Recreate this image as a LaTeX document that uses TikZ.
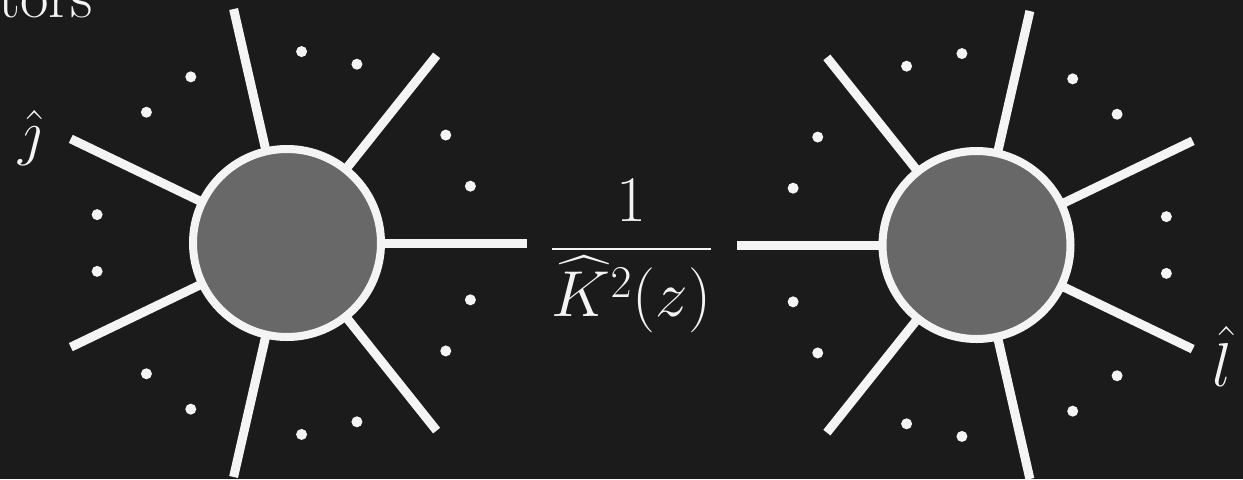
\RequirePackage{fix-cm}
\documentclass[tikz,border=0pt]{standalone}
\usepackage{amsmath}
\definecolor{bg}{HTML}{1B1B1B}
\definecolor{blob}{HTML}{686868}
\definecolor{ink}{HTML}{F4F4F4}
\begin{document}
\begin{tikzpicture}[x=0.5pt,y=0.5pt,
  leg/.style={draw=ink,line width=4.5pt},
  blobstyle/.style={circle,draw=ink,line width=4pt,fill=blob,inner sep=0pt,minimum size=94pt},
  dotstyle/.style={fill=ink},
  lab/.style={text=ink,font=\fontsize{31}{37}\selectfont,inner sep=0pt}]
\fill[bg] (0,0) rectangle (1243,479);
\useasboundingbox (0,0) rectangle (1243,479);
\clip (0,0) rectangle (1243,479);
\coordinate (Lc) at (287,236);
\coordinate (Rc) at (976.5,234);
\foreach \k in {0,...,6}{
  \coordinate (L\k) at ([shift={(\k*360/7:240)}]Lc);
  \coordinate (R\k) at ([shift={(180+\k*360/7:240)}]Rc);
  \draw[leg] (Lc) -- (L\k);
  \draw[leg] (Rc) -- (R\k);
  \fill[dotstyle] ([shift={(\k*360/7+360/14-8.5:192)}]Lc) circle[radius=5.5];
  \fill[dotstyle] ([shift={(\k*360/7+360/14+8.5:192)}]Lc) circle[radius=5.5];
  \fill[dotstyle] ([shift={(180+\k*360/7+360/14-8.5:192)}]Rc) circle[radius=5.5];
  \fill[dotstyle] ([shift={(180+\k*360/7+360/14+8.5:192)}]Rc) circle[radius=5.5];
}
\node[blobstyle] (L) at (Lc) {};
\node[blobstyle] (R) at (Rc) {};
\node[lab,anchor=base,font=\fontsize{32.5}{39}\selectfont] (frac) at (631.5,214) {$\displaystyle\frac{1}{\widehat{K}^2(z)}$};
\node[lab,anchor=base] (j) at (30,326) {$\hat{\jmath}$};
\node[lab,anchor=base] (l) at (1222,93) {$\hat{l}$};
\node[lab,anchor=base west] (tors) at (-2,462) {tors};
\end{tikzpicture}
\end{document}
